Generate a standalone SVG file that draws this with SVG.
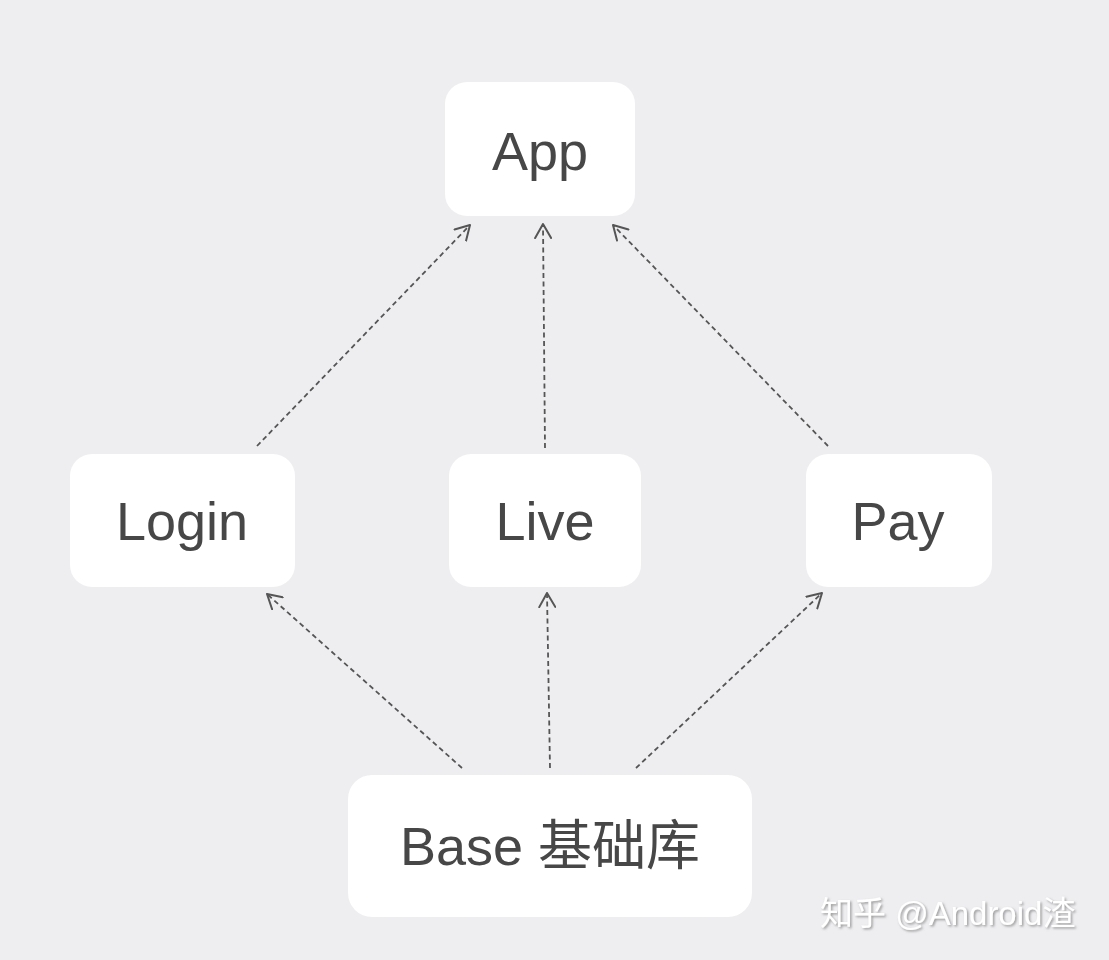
<svg xmlns="http://www.w3.org/2000/svg" width="1109" height="960" viewBox="0 0 1109 960">
<defs>
<marker id="arr" viewBox="0 0 16 18" refX="15" refY="9" markerWidth="16" markerHeight="18" markerUnits="userSpaceOnUse" orient="auto">
<path d="M1,1 L15,9 L1,17" fill="none" stroke="#555" stroke-width="2" stroke-linecap="round" stroke-linejoin="round"/>
</marker>
<filter id="sh" x="-10%" y="-30%" width="120%" height="160%">
<feDropShadow dx="1.5" dy="1.5" stdDeviation="0.8" flood-color="#888" flood-opacity="0.8"/>
</filter>
</defs>
<style>
.box{fill:#ffffff;}
.lbl{font-family:"Liberation Sans","Noto Sans CJK SC",sans-serif;font-size:54px;fill:#474747;text-anchor:middle;}
.edge{fill:none;stroke:#555;stroke-width:1.8;stroke-dasharray:5 3.5;marker-end:url(#arr);}
.wm{font-family:"Liberation Sans","Noto Sans CJK SC",sans-serif;font-size:33px;fill:#ffffff;}
</style>
<rect width="1109" height="960" fill="#EEEDF0"/>
<g id="connectors">
<line class="edge" x1="257" y1="446" x2="470" y2="225"/>
<line class="edge" x1="545" y1="448" x2="543" y2="224"/>
<line class="edge" x1="828" y1="446" x2="613" y2="225"/>
<line class="edge" x1="462" y1="768" x2="267" y2="594"/>
<line class="edge" x1="550" y1="768" x2="547" y2="593"/>
<line class="edge" x1="636" y1="768" x2="822" y2="593"/>
</g>
<g id="app">
<rect class="box" x="445" y="82" width="190" height="134" rx="22"/>
<text class="lbl" x="540" y="170">App</text>
</g>
<g id="login">
<rect class="box" x="70" y="454" width="225" height="133" rx="22"/>
<text class="lbl" x="182" y="540">Login</text>
</g>
<g id="live">
<rect class="box" x="449" y="454" width="192" height="133" rx="22"/>
<text class="lbl" x="545" y="540">Live</text>
</g>
<g id="pay">
<rect class="box" x="806" y="454" width="186" height="133" rx="22"/>
<text class="lbl" x="898" y="540">Pay</text>
</g>
<g id="base">
<rect class="box" x="348" y="775" width="404" height="142" rx="24"/>
<text class="lbl" x="550" y="865" font-size="55">Base 基础库</text>
</g>
<text class="wm" x="820" y="925" filter="url(#sh)">知乎 @Android渣</text>
</svg>
